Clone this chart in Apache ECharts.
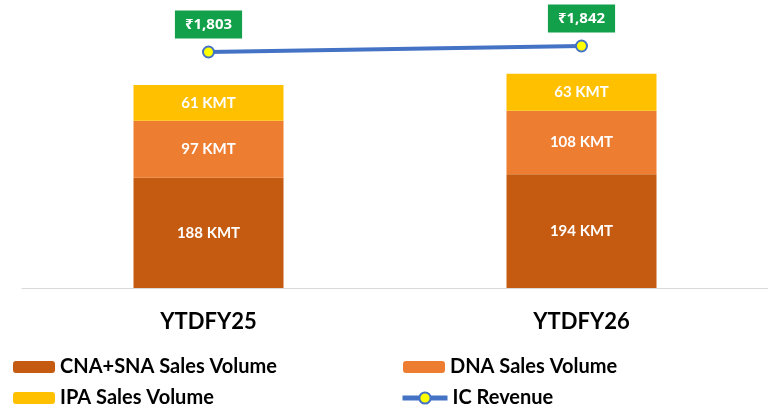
<!DOCTYPE html>
<html>
<head>
<meta charset="utf-8">
<script src="https://cdn.jsdelivr.net/npm/echarts@6/dist/echarts.min.js"></script>
<style>
  html, body { margin: 0; padding: 0; background: #fff; }
  #main { width: 768px; height: 406px; }
</style>
</head>
<body>
<div id="main"></div>
<script>
var categories = ['YTDFY25', 'YTDFY26'];
var cnaSna = [188, 194];
var dna = [97, 108];
var ipa = [61, 63];
var icRevenue = [1803, 1842];

var chartDom = document.getElementById('main');
var myChart = echarts.init(chartDom);
var option;

var font = 'Lato, "Noto Sans", sans-serif';

var barLabel = {
    show: true,
    position: 'inside',
    color: '#fff',
    fontWeight: 'bold',
    fontSize: 15,
    fontFamily: font,
    formatter: '{c} KMT'
};

var legendText = { color: '#000', fontSize: 20, fontWeight: 'bold', fontFamily: font, lineHeight: 20 };

option = {
    animation: false,
    backgroundColor: '#fff',
    grid: { left: 22, right: 0, top: 24, bottom: 118 },
    legend: [
        { data: ['CNA+SNA Sales Volume'], left: 13, top: 357, padding: 0, itemWidth: 42, itemHeight: 12, textStyle: legendText },
        { data: ['IPA Sales Volume'], left: 13, top: 388, padding: 0, itemWidth: 42, itemHeight: 12, textStyle: legendText },
        { data: ['DNA Sales Volume'], left: 403, top: 357, padding: 0, itemWidth: 42, itemHeight: 12, textStyle: legendText },
        { data: ['IC Revenue'], left: 400, top: 388, padding: 0, itemWidth: 45, itemHeight: 14, textStyle: legendText, lineStyle: { width: 5 } }
    ],
    xAxis: {
        type: 'category',
        data: categories,
        axisLine: { lineStyle: { color: '#d9d9d9', width: 1 } },
        axisTick: { show: false },
        axisLabel: { color: '#000', fontSize: 22, fontWeight: 'bold', fontFamily: font, margin: 23 }
    },
    yAxis: [
        { type: 'value', min: 0, max: 450, show: false, splitLine: { show: false } },
        { type: 'value', min: 270, max: 1985, show: false, splitLine: { show: false } }
    ],
    series: [
        {
            name: 'CNA+SNA Sales Volume',
            type: 'bar',
            stack: 'vol',
            barWidth: 150,
            data: cnaSna,
            itemStyle: { color: '#C55A11' },
            label: barLabel
        },
        {
            name: 'DNA Sales Volume',
            type: 'bar',
            stack: 'vol',
            data: dna,
            itemStyle: { color: '#ED7D31' },
            label: barLabel
        },
        {
            name: 'IPA Sales Volume',
            type: 'bar',
            stack: 'vol',
            data: ipa,
            itemStyle: { color: '#FFC000' },
            label: barLabel
        },
        {
            name: 'IC Revenue',
            type: 'line',
            yAxisIndex: 1,
            data: icRevenue,
            symbol: 'circle',
            symbolSize: 11,
            lineStyle: { color: '#4472C4', width: 4 },
            itemStyle: { color: '#FFFF00', borderColor: '#4472C4', borderWidth: 2 },
            label: {
                show: true,
                position: 'top',
                distance: 7,
                color: '#fff',
                fontWeight: 'bold',
                fontSize: 15,
                lineHeight: 20,
                fontFamily: '"Noto Sans", Lato, sans-serif',
                backgroundColor: '#13A04A',
                padding: [4, 10],
                formatter: function (p) {
                    return '\u20B9' + p.value.toLocaleString('en-US');
                }
            }
        }
    ]
};
option && myChart.setOption(option);
</script>
</body>
</html>
